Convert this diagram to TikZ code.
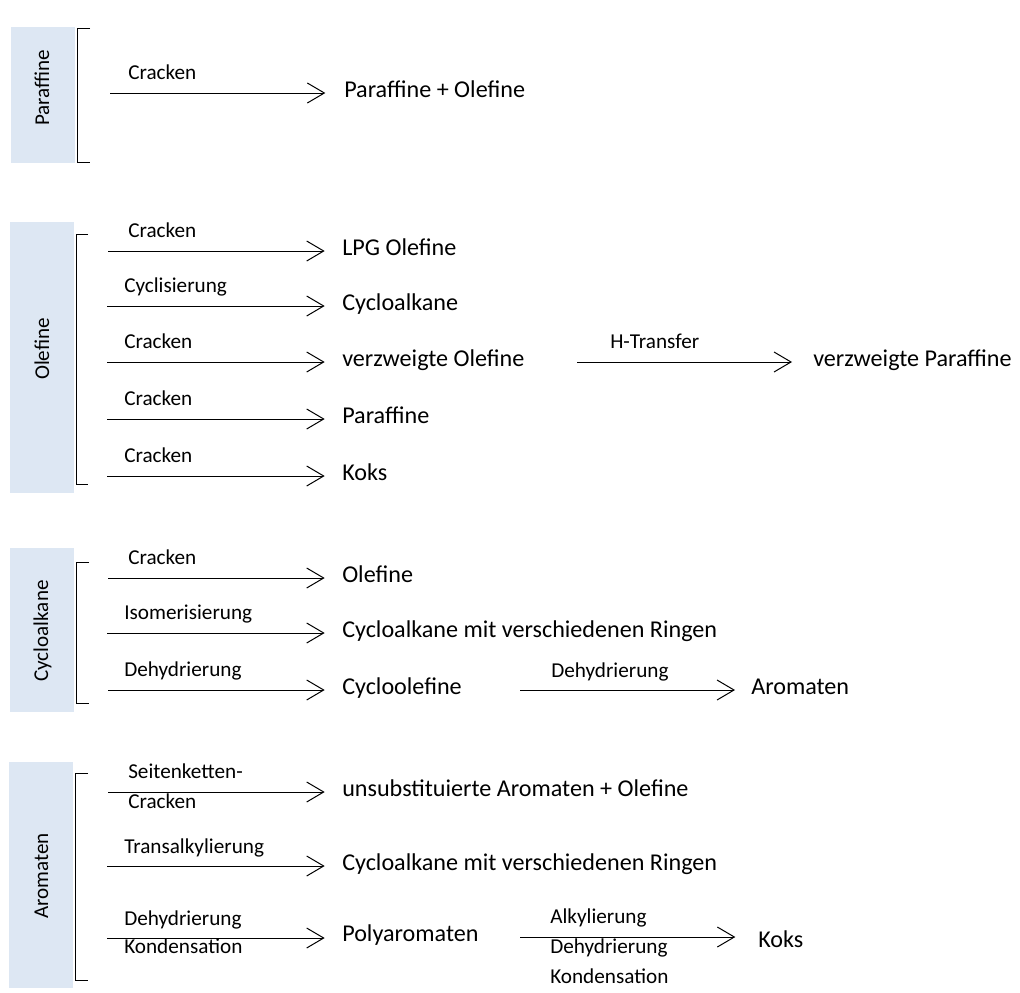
\documentclass[tikz,border=0pt]{standalone}
\usepackage{fontspec}
\setmainfont{Carlito}
\usetikzlibrary{arrows.meta}
\definecolor{boxblue}{HTML}{DDE7F3}
\begin{document}
\begin{tikzpicture}[x=0.75pt,y=-0.75pt,
  grpbox/.style={fill=boxblue, draw=none, inner sep=0, outer sep=0, minimum width=48pt},
  grptxt/.style={rotate=90, anchor=base, inner sep=0, font=\fontsize{15.8}{19}\selectfont},
  brk/.style={line width=0.75pt},
  arr/.style={line width=0.75pt, -{Straight Barb[length=12.75pt,width=15pt]}, shorten >=13pt},
  lbl/.style={anchor=base west, inner sep=0, font=\fontsize{15.9}{19}\selectfont},
  lblm/.style={anchor=base west, inner sep=0, align=left, font=\fontsize{15.9}{22.5}\selectfont},
  tgt/.style={anchor=base west, inner sep=0, font=\fontsize{18.1}{21}\selectfont}]
\useasboundingbox (0,0) rectangle (1020,992);

% ---------- group boxes ----------
\node[grpbox, minimum height=102pt]    (gP) at (43,95) {};
\node[grpbox, minimum height=203.25pt] (gO) at (42,357.5) {};
\node[grpbox, minimum height=123pt]    (gC) at (42,630) {};
\node[grpbox, minimum height=169.5pt]  (gA) at (41,875) {};
\node[grptxt] (gPt) at (49,88)  {Paraffine};
\node[grptxt] (gOt) at (49,349) {Olefine};
\node[grptxt] (gCt) at (48,631) {Cycloalkane};
\node[grptxt] (gAt) at (48,876) {Aromaten};

% ---------- brackets ----------
\draw[brk] (90,28) -- (77,28) -- (77,162) -- (90,162);
\draw[brk] (88,234) -- (76,234) -- (76,484) -- (88,484);
\draw[brk] (89,562) -- (76,562) -- (76,703) -- (89,703);
\draw[brk] (88,773) -- (75,773) -- (75,980) -- (88,980);

% ---------- Paraffine ----------
\coordinate (p1) at (110,93);
\node[lbl] (p1l) at (128,79) {Cracken};
\node[tgt] (p1t) at (344,97) {Paraffine + Olefine};
\draw[arr, shorten >=14pt] (p1) -- (p1 -| p1t.west);

% ---------- Olefine ----------
\coordinate (o1) at (108,251);
\node[lbl] (o1l) at (128,237) {Cracken};
\node[tgt] (o1t) at (342,255) {LPG Olefine};
\draw[arr] (o1) -- (o1 -| o1t.west);

\coordinate (o2) at (107,306);
\node[lbl] (o2l) at (124,292) {Cyclisierung};
\node[tgt] (o2t) at (342,310) {Cycloalkane};
\draw[arr] (o2) -- (o2 -| o2t.west);

\coordinate (o3) at (107,362);
\node[lbl] (o3l) at (124,348) {Cracken};
\node[tgt] (o3t) at (342,366) {verzweigte Olefine};
\draw[arr] (o3) -- (o3 -| o3t.west);

\coordinate (o3b) at (577,362);
\node[lbl] (o3bl) at (610,348) {H-Transfer};
\node[tgt] (o3bt) at (813,366) {verzweigte Paraffine};
\draw[arr, shorten >=15.75pt] (o3b) -- (o3b -| o3bt.west);

\coordinate (o4) at (107,419);
\node[lbl] (o4l) at (124,405) {Cracken};
\node[tgt] (o4t) at (342,423) {Paraffine};
\draw[arr] (o4) -- (o4 -| o4t.west);

\coordinate (o5) at (107,476);
\node[lbl] (o5l) at (124,462) {Cracken};
\node[tgt] (o5t) at (342,480) {Koks};
\draw[arr] (o5) -- (o5 -| o5t.west);

% ---------- Cycloalkane ----------
\coordinate (c1) at (108,578);
\node[lbl] (c1l) at (128,564) {Cracken};
\node[tgt] (c1t) at (342,582) {Olefine};
\draw[arr] (c1) -- (c1 -| c1t.west);

\coordinate (c2) at (107,633);
\node[lbl] (c2l) at (124,619) {Isomerisierung};
\node[tgt] (c2t) at (342,637) {Cycloalkane mit verschiedenen Ringen};
\draw[arr] (c2) -- (c2 -| c2t.west);

\coordinate (c3) at (108,690);
\node[lbl] (c3l) at (124,676) {Dehydrierung};
\node[tgt] (c3t) at (342,694) {Cycloolefine};
\draw[arr] (c3) -- (c3 -| c3t.west);

\coordinate (c3b) at (520,690);
\node[lbl] (c3bl) at (551,677) {Dehydrierung};
\node[tgt] (c3bt) at (751,694) {Aromaten};
\draw[arr, shorten >=12pt] (c3b) -- (c3b -| c3bt.west);

% ---------- Aromaten ----------
% (multi-line nodes: base anchor = baseline of the last line)
\coordinate (a1) at (108,792);
\node[lblm] (a1l) at (128,808) {Seitenketten-\\Cracken};
\node[tgt] (a1t) at (342,796) {unsubstituierte Aromaten + Olefine};
\draw[arr] (a1) -- (a1 -| a1t.west);

\coordinate (a2) at (107,866);
\node[lbl] (a2l) at (124,853) {Transalkylierung};
\node[tgt] (a2t) at (342,870) {Cycloalkane mit verschiedenen Ringen};
\draw[arr] (a2) -- (a2 -| a2t.west);

\coordinate (a3) at (107,938);
\node[lblm, font=\fontsize{15.9}{21}\selectfont] (a3l) at (124,953) {Dehydrierung\\Kondensation};
\node[tgt] (a3t) at (342,941) {Polyaromaten};
\draw[arr] (a3) -- (a3 -| a3t.west);

\coordinate (a3b) at (520,937);
\node[lblm] (a3bl) at (550,983) {Alkylierung\\Dehydrierung\\Kondensation};
\node[tgt] (a3bt) at (758,947) {Koks};
\draw[arr, shorten >=17pt] (a3b) -- (a3b -| a3bt.west);
\end{tikzpicture}
\end{document}
